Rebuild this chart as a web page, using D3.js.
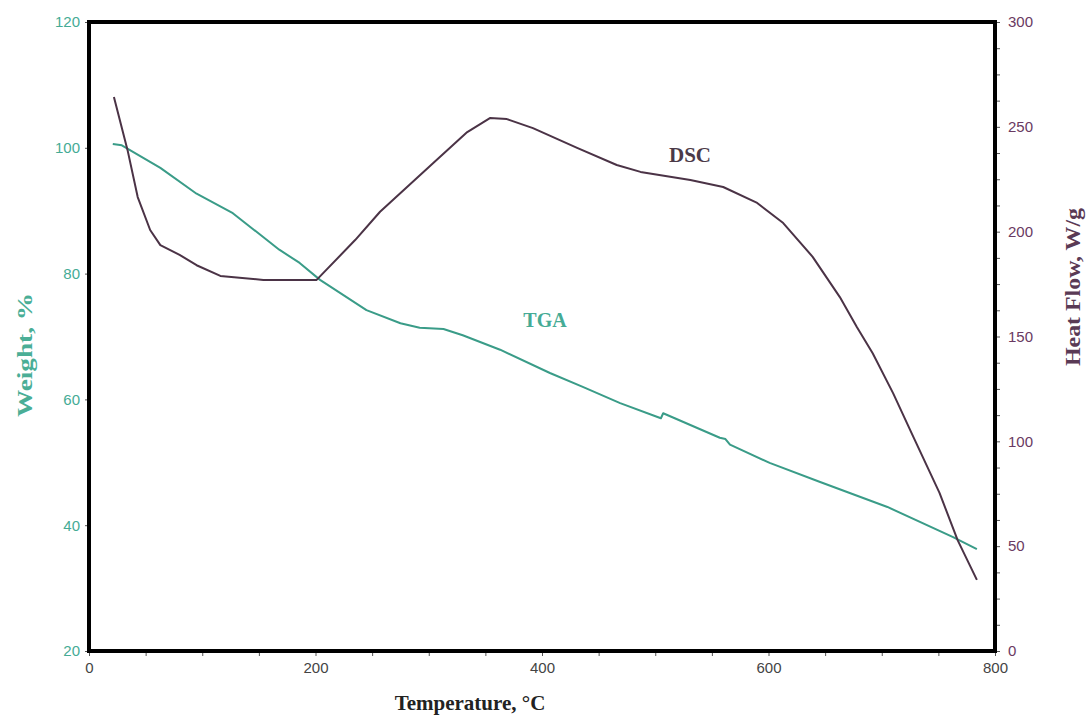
<!DOCTYPE html>
<html>
<head>
<meta charset="utf-8">
<script src="https://cdn.jsdelivr.net/npm/d3@7"></script>
<style>
  body { margin: 0; background: #fff; }
  svg { display: block; }
</style>
</head>
<body>
<svg width="1086" height="715"></svg>
<script>
// TGA curve: temperature (°C) and weight (%)
let tgaTemp   = [21, 29, 63, 95, 127, 168, 186, 204, 245, 275, 292, 313, 330, 363, 407, 436, 469, 502, 505, 507, 557, 562, 566, 601, 645, 705, 763, 784];
let tgaWeight = [100.6, 100.4, 96.8, 92.7, 89.6, 83.8, 81.7, 79.0, 74.2, 72.1, 71.4, 71.2, 70.2, 67.9, 64.2, 62.0, 59.4, 57.2, 57.0, 57.8, 53.9, 53.7, 52.8, 49.9, 46.9, 42.9, 38.1, 36.2];

// DSC curve: temperature (°C) and heat flow (W/g)
let dscTemp = [22, 34, 43, 54, 63, 80, 95, 116, 154, 201, 235, 257, 304, 334, 354, 369, 392, 431, 466, 487, 531, 560, 590, 613, 639, 663, 678, 692, 710, 728, 751, 767, 784];
let dscHeat = [264.2, 239, 216.5, 200.8, 193.6, 188.9, 184, 178.9, 177, 177, 196, 209.5, 232.8, 247.5, 254.2, 253.7, 249.4, 240, 231.8, 228.5, 224.6, 221.3, 213.7, 204.1, 188, 168.8, 154.5, 142, 123, 102, 75.4, 52.9, 33.9];

let xTicks = [0, 200, 400, 600, 800];
let weightTicks = [20, 40, 60, 80, 100, 120];
let heatTicks = [0, 50, 100, 150, 200, 250, 300];

let svg = d3.select('svg');
let mLeft = 89, mRight = 995, mTop = 22, mBottom = 651;

let x = d3.scaleLinear().domain([0, 800]).range([mLeft, mRight]);
let yW = d3.scaleLinear().domain([20, 120]).range([mBottom, mTop]);
let yH = d3.scaleLinear().domain([0, 300]).range([mBottom, mTop]);

let tgaColor = '#3a9c88', dscColor = '#4b3346';

// bottom axis, minor ticks every 50
let xAxis = svg.append('g').attr('transform', 'translate(0,' + mBottom + ')')
    .call(d3.axisBottom(x).tickValues(d3.range(0, 801, 50)).tickSize(5)
        .tickFormat(d => xTicks.includes(d) ? d : ''));
xAxis.selectAll('text').attr('fill', '#444').attr('dy', '0.95em');

// left axis
let wAxis = svg.append('g').attr('transform', 'translate(' + mLeft + ',0)')
    .call(d3.axisLeft(yW).tickValues(weightTicks).tickSize(4).tickPadding(5));
wAxis.selectAll('text').attr('fill', '#45ab95');

// right axis, minor ticks every 12.5
let hAxis = svg.append('g').attr('transform', 'translate(' + mRight + ',0)')
    .call(d3.axisRight(yH).tickValues(d3.range(0, 300.1, 12.5)).tickSize(5).tickPadding(8)
        .tickFormat(d => heatTicks.includes(d) ? d : ''));
hAxis.selectAll('text').attr('fill', '#6a3a62');

svg.selectAll('.domain').remove();
svg.selectAll('.tick line').attr('stroke', '#555');
svg.selectAll('.tick text').attr('font-family', 'Liberation Sans, Arial, sans-serif').attr('font-size', 15);

// frame
svg.append('rect')
    .attr('x', mLeft).attr('y', mTop)
    .attr('width', mRight - mLeft).attr('height', mBottom - mTop)
    .attr('fill', 'none').attr('stroke', '#000').attr('stroke-width', 4);

let tga = tgaTemp.map((t, i) => [t, tgaWeight[i]]);
let dsc = dscTemp.map((t, i) => [t, dscHeat[i]]);

svg.append('path').datum(tga)
    .attr('d', d3.line().x(d => x(d[0])).y(d => yW(d[1])))
    .attr('fill', 'none').attr('stroke', tgaColor).attr('stroke-width', 2)
    .attr('stroke-linejoin', 'round');

svg.append('path').datum(dsc)
    .attr('d', d3.line().x(d => x(d[0])).y(d => yH(d[1])))
    .attr('fill', 'none').attr('stroke', dscColor).attr('stroke-width', 2)
    .attr('stroke-linejoin', 'round');

let serif = 'Liberation Serif, Times New Roman, serif';

// curve labels
svg.append('text').attr('x', 545).attr('y', 327).attr('text-anchor', 'middle')
    .attr('font-family', serif).attr('font-weight', 'bold').attr('font-size', 20)
    .attr('fill', '#45ab95').text('TGA');
svg.append('text').attr('x', 690).attr('y', 162).attr('text-anchor', 'middle')
    .attr('font-family', serif).attr('font-weight', 'bold').attr('font-size', 21)
    .attr('fill', '#4b3a48').text('DSC');

// axis titles
svg.append('text').attr('x', 470).attr('y', 710).attr('text-anchor', 'middle')
    .attr('font-family', serif).attr('font-weight', 'bold').attr('font-size', 21)
    .attr('fill', '#222').text('Temperature, °C');
svg.append('text').attr('transform', 'translate(32,355) rotate(-90)').attr('text-anchor', 'middle')
    .attr('font-family', serif).attr('font-weight', 'bold').attr('font-size', 22)
    .attr('textLength', 124).attr('lengthAdjust', 'spacingAndGlyphs')
    .attr('fill', '#4aae96').text('Weight, %');
svg.append('text').attr('transform', 'translate(1080,287) rotate(-90)').attr('text-anchor', 'middle')
    .attr('font-family', serif).attr('font-weight', 'bold').attr('font-size', 21)
    .attr('textLength', 158).attr('lengthAdjust', 'spacingAndGlyphs')
    .attr('fill', '#5a3a55').text('Heat Flow, W/g');
</script>
</body>
</html>
